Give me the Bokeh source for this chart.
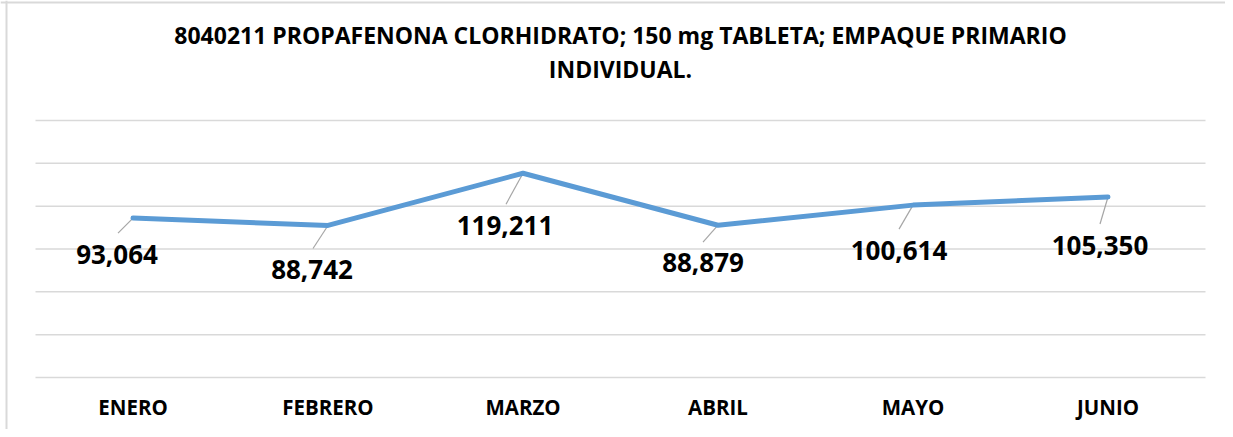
from bokeh.plotting import figure
from bokeh.models import Label, ColumnDataSource, Range1d, Span
from bokeh.core.properties import value
from bokeh.embed import file_html
from bokeh.resources import INLINE

# ---- data ----
months = ["ENERO", "FEBRERO", "MARZO", "ABRIL", "MAYO", "JUNIO"]
values = [93064, 88742, 119211, 88879, 100614, 105350]
labels = ["93,064", "88,742", "119,211", "88,879", "100,614", "105,350"]
grid_ticks = [0, 25000, 50000, 75000, 100000, 125000, 150000]
title_line1 = "8040211 PROPAFENONA CLORHIDRATO; 150 mg TABLETA; EMPAQUE PRIMARIO"
title_line2 = "INDIVIDUAL."

# ---- styles: label offsets (screen px, +y = down) and leader starts ----
label_dx = [-16, -16, -18, -15, -14, -8]
label_dy = [36, 44, 52, 37, 45, 48]
lead_dx = [-15, -15, -17, -15, -14, -8]
lead_dy = [15, 23, 31, 17, 24, 27]

# ---- layout (pixels) ----
W, H = 1225, 429
PLOT_L, PLOT_R = 35, 1205      # plot area left / right
PLOT_T, PLOT_B = 120, 377      # top gridline / baseline
Y_MAX = grid_ticks[-1]

n = len(months)
cat_w = (PLOT_R - PLOT_L) / n
px_x = 1 / cat_w
px_y = Y_MAX / (PLOT_B - PLOT_T)

def dx(px):   # canvas x pixel -> data x
    return (px - PLOT_L) * px_x - 0.5

def dy(px):   # canvas y pixel -> data y
    return (PLOT_B - px) * px_y

xs = list(range(n))

p = figure(width=W, height=H, output_backend="svg", toolbar_location=None,
           x_range=Range1d(dx(0), dx(W)), y_range=Range1d(dy(H), dy(0)),
           x_axis_location=None, y_axis_location=None,
           min_border_left=0, min_border_right=0, min_border_bottom=0, min_border_top=0)
p.outline_line_color = None
p.background_fill_color = "white"
p.border_fill_color = "white"
p.grid.visible = False

# chart border (left and top edges visible)
p.add_layout(Span(location=dx(6), dimension="height", line_color="#d9d9d9", line_width=2))
p.add_layout(Span(location=dy(2), dimension="width", line_color="#d9d9d9", line_width=2))

# horizontal gridlines across the plot area
p.segment(x0=[-0.5] * len(grid_ticks), x1=[n - 0.5] * len(grid_ticks),
          y0=grid_ticks, y1=grid_ticks, line_color="#d9d9d9", line_width=1.5)

# title
for txt, up_px in [(title_line1, 86), (title_line2, 52)]:
    p.add_layout(Label(x=(n - 1) / 2, y=Y_MAX + up_px * px_y, text=txt,
                       text_align="center", text_baseline="middle",
                       text_font="Open Sans", text_font_size="23px",
                       text_font_style="bold", text_color="#000000"))

# category labels
p.text(x=xs, y=[0] * n, text=months, y_offset=29,
       text_align="center", text_baseline="middle", text_font_size="20.5px",
       text_font_style="bold", text_color="#000000", text_font=value("Open Sans"))

# leader lines (converted from px offsets to data units)
x0 = [x + d * px_x for x, d in zip(xs, lead_dx)]
y0 = [v - d * px_y for v, d in zip(values, lead_dy)]
p.segment(x0=x0, y0=y0, x1=xs, y1=values, line_color="#a6a6a6", line_width=1.2)

# main line
p.line(xs, values, line_color="#5b9bd5", line_width=5, line_join="round", line_cap="round")

# data labels
src = ColumnDataSource(dict(x=xs, y=values, t=labels, ox=label_dx, oy=label_dy))
p.text(x="x", y="y", text="t", x_offset="ox", y_offset="oy", source=src,
       text_align="center", text_baseline="middle", text_font_size="26px",
       text_font_style="bold", text_color="#000000", text_font=value("Open Sans"))

open("out.html", "w").write(file_html(p, INLINE))
